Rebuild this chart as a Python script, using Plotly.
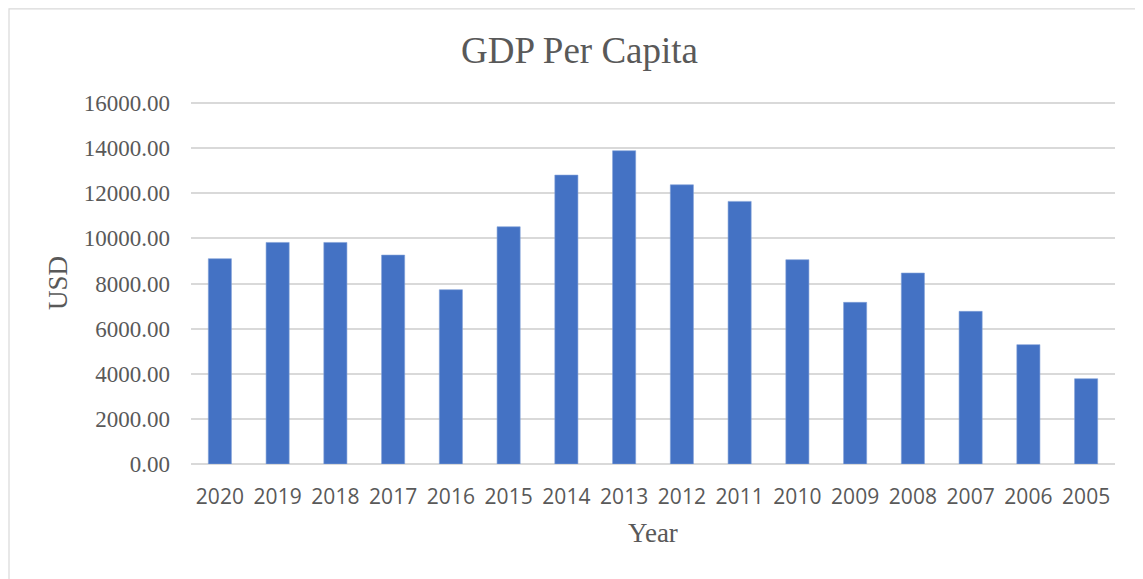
import plotly.graph_objects as go

years = ["2020", "2019", "2018", "2017", "2016", "2015", "2014", "2013",
         "2012", "2011", "2010", "2009", "2008", "2007", "2006", "2005"]
gdp_per_capita = [9100, 9820, 9820, 9260, 7725, 10515, 12805, 13885,
                  12375, 11640, 9055, 7165, 8465, 6765, 5290, 3780]
y_ticks = [0, 2000, 4000, 6000, 8000, 10000, 12000, 14000, 16000]
y_tick_labels = [f"{v:.2f}" for v in y_ticks]

# figure is placed by the page with an 8px body margin
W, H = 1135, 571
L, R, T, B = 183, 28, 94, 115
pw, ph = W - L - R, H - T - B

def fx(px):
    return (px - L) / pw

def fy(py):
    return (H - B - py) / ph

fig = go.Figure(go.Bar(
    x=years, y=gdp_per_capita,
    marker=dict(color="#4472C4", line=dict(color="#7f9fd6", width=0.6)),
))

fig.update_layout(
    width=W, height=H,
    margin=dict(l=L, r=R, t=T, b=B),
    paper_bgcolor="white", plot_bgcolor="white",
    bargap=0.6,
    showlegend=False,
    title=dict(text="GDP Per Capita", x=0.5035, xref="container", xanchor="center",
               y=1 - 42 / H, yanchor="middle",
               font=dict(family="Liberation Serif", size=37, color="#595959")),
    xaxis=dict(
        type="category",
        tickfont=dict(family="Open Sans", size=21, color="#595959"),
        ticklabelstandoff=18,
        showgrid=False, showline=False, zeroline=False,
        title=dict(text="Year", font=dict(family="Liberation Serif", size=27, color="#595959"),
                   standoff=14),
    ),
    yaxis=dict(
        range=[0, 16045],
        tickvals=y_ticks, ticktext=y_tick_labels,
        tickfont=dict(family="Liberation Serif", size=23, color="#595959"),
        ticklabelstandoff=20,
        showgrid=True, gridcolor="#d9d9d9", gridwidth=1.5,
        zeroline=True, zerolinecolor="#d9d9d9", zerolinewidth=1.5,
        showline=False,
        title=dict(text="USD", font=dict(family="Liberation Serif", size=27, color="#595959"),
                   standoff=8),
    ),
    shapes=[dict(type="rect", xref="paper", yref="paper",
                 x0=fx(1), x1=fx(1160),
                 y0=fy(600), y1=fy(0.8),
                 line=dict(color="#d9d9d9", width=1.2), fillcolor="rgba(0,0,0,0)",
                 layer="below")],
)

fig.write_html("out.html")
